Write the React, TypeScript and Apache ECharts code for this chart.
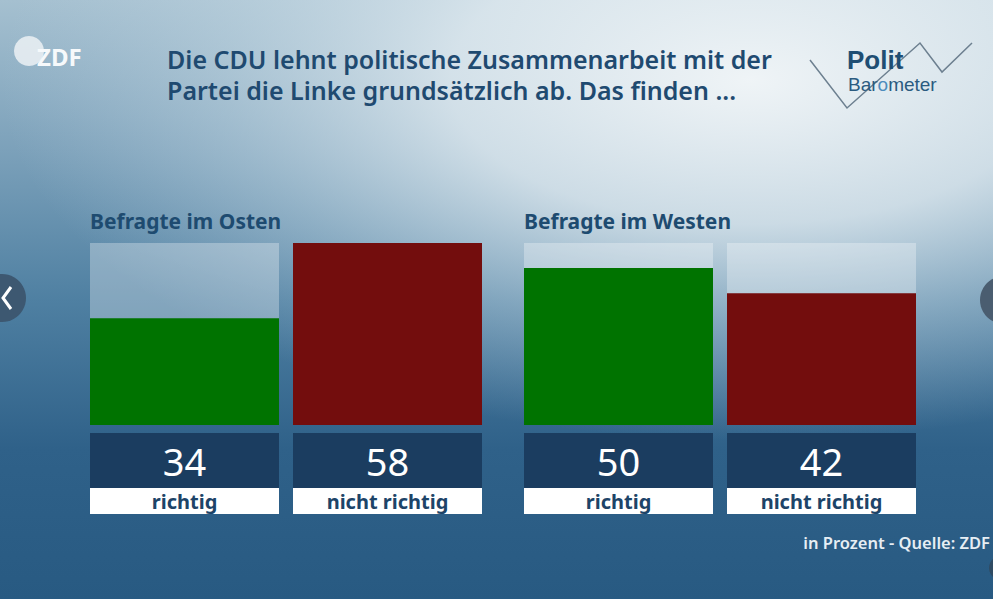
import React, { useEffect, useRef } from "react";
import * as echarts from "echarts";

const categories = ["richtig", "nicht richtig"];
const eastValues = [34, 58];
const westValues = [50, 42];
const groupTitles = ["Befragte im Osten", "Befragte im Westen"];
const barColors = ["#007300", "#730d0d"];
const mainTitle = "Die CDU lehnt politische Zusammenarbeit mit der\nPartei die Linke grundsätzlich ab. Das finden ...";
const footer = "in Prozent - Quelle: ZDF";
const axisMax = 58;

const FONT = "'Noto Sans', 'Open Sans', sans-serif";
const LOGO_FONT = "'Liberation Sans', Arial, sans-serif";

export default function App() {
  const ref = useRef<HTMLDivElement>(null);
  useEffect(() => {
    if (!ref.current) return;
    const chart = echarts.init(ref.current, undefined, { renderer: "svg" });
    const groups = [eastValues, westValues];
    const gridLefts = [83, 517];
    const grids = groups.map((_, i) => ({ left: gridLefts[i], top: 243, width: 406, height: 182 }));
    const xAxes = groups.map((vals, i) => ({
      type: "category",
      gridIndex: i,
      data: categories,
      axisLine: { show: false },
      axisTick: { show: false },
      axisLabel: {
        interval: 0,
        margin: 8,
        formatter: (v: string, idx: number) => `{v|${vals[idx]}}\n{l|${v}}`,
        rich: {
          v: {
            width: 189,
            height: 55,
            lineHeight: 55,
            align: "center",
            backgroundColor: "#1b3d60",
            color: "#ffffff",
            fontSize: 38,
            fontFamily: FONT,
          },
          l: {
            width: 189,
            height: 26,
            lineHeight: 26,
            align: "center",
            backgroundColor: "#ffffff",
            color: "#1d4468",
            fontSize: 20,
            fontWeight: "bold",
            fontFamily: FONT,
          },
        },
      },
    }));
    const yAxes = groups.map((_, i) => ({
      type: "value",
      gridIndex: i,
      min: 0,
      max: axisMax,
      show: false,
      splitLine: { show: false },
    }));
    const series = groups.map((vals, i) => ({
      type: "bar",
      xAxisIndex: i,
      yAxisIndex: i,
      barWidth: 189,
      showBackground: true,
      backgroundStyle: { color: "rgba(255,255,255,0.3)" },
      data: vals.map((v, j) => ({ value: v, itemStyle: { color: barColors[j] } })),
    }));

    chart.setOption({
      animation: false,
      backgroundColor: new echarts.graphic.LinearGradient(0, 0, 0, 1, [
        { offset: 0, color: "#a5c0d0" },
        { offset: 0.25, color: "#7ca1ba" },
        { offset: 0.5, color: "#4f80a2" },
        { offset: 0.75, color: "#2f6189" },
        { offset: 1, color: "#285a82" },
      ]),
      title: [
        {
          text: mainTitle,
          left: 167,
          top: 43,
          padding: 0,
          textStyle: { fontFamily: FONT, fontSize: 25, fontWeight: 600, color: "#1f4a70", lineHeight: 31 },
        },
        {
          text: groupTitles[0],
          left: 90,
          top: 210,
          padding: 0,
          textStyle: { fontFamily: FONT, fontSize: 21, fontWeight: "bold", color: "#1e4b70" },
        },
        {
          text: groupTitles[1],
          left: 524,
          top: 210,
          padding: 0,
          textStyle: { fontFamily: FONT, fontSize: 21, fontWeight: "bold", color: "#1e4b70" },
        },
        {
          text: footer,
          right: 3,
          top: 534,
          padding: 0,
          textStyle: { fontFamily: FONT, fontSize: 16.5, fontWeight: 600, color: "#e6eef4" },
        },
      ],
      grid: grids,
      xAxis: xAxes,
      yAxis: yAxes,
      series,
      graphic: [
        {
          type: "rect",
          z: -10,
          silent: true,
          shape: { x: 0, y: -280, width: 1500, height: 720 },
          style: {
            fill: new echarts.graphic.RadialGradient(0.5, 0.5, 0.5, [
              { offset: 0, color: "rgba(242,246,248,0.97)" },
              { offset: 0.4, color: "rgba(228,237,242,0.8)" },
              { offset: 0.7, color: "rgba(205,222,232,0.4)" },
              { offset: 1, color: "rgba(190,210,225,0)" },
            ]),
          },
        },
        // ZDF logo
        { type: "circle", z: 5, shape: { cx: 29, cy: 51, r: 15 }, style: { fill: "rgba(236,241,245,0.85)" } },
        {
          type: "text",
          z: 6,
          x: 37,
          y: 44,
          style: { text: "ZDF", fontFamily: FONT, fontSize: 24, fontWeight: "bold", fill: "#f6f9fb" },
        },
        // Polit Barometer logo
        {
          type: "polyline",
          z: 5,
          shape: { points: [[810, 60], [847, 108], [920, 43], [942, 72], [972, 43]] },
          style: { stroke: "#6d8090", lineWidth: 1.5, fill: "none" },
        },
        {
          type: "text",
          z: 6,
          x: 847,
          y: 48,
          style: { text: "Polit", fontFamily: LOGO_FONT, fontSize: 26, lineHeight: 23, fontWeight: "bold", fill: "#1f4e73" },
        },
        {
          type: "text",
          z: 6,
          x: 848,
          y: 75,
          style: {
            text: "{a|Bar}{b|o}{a|meter}",
            rich: {
              a: { fontFamily: LOGO_FONT, fontSize: 19, lineHeight: 18, fill: "#2b5b80" },
              b: { fontFamily: LOGO_FONT, fontSize: 19, lineHeight: 18, fill: "#4c8cbd" },
            },
          },
        },
        // navigation arrows
        { type: "circle", z: 5, shape: { cx: 2, cy: 298, r: 24 }, style: { fill: "#3d5871" } },
        {
          type: "polyline",
          z: 6,
          shape: { points: [[11, 287], [3, 298], [11, 309]] },
          style: { stroke: "#ffffff", lineWidth: 3, fill: "none" },
        },
        { type: "circle", z: 5, shape: { cx: 1004, cy: 300, r: 24 }, style: { fill: "#4a5d70" } },
        { type: "circle", z: 5, shape: { cx: 1001, cy: 568, r: 12 }, style: { fill: "#2f4b63" } },
      ],
    });
    return () => chart.dispose();
  }, []);
  return <div ref={ref} style={{ position: "fixed", left: 0, top: 0, width: 993, height: 599 }} />;
}
